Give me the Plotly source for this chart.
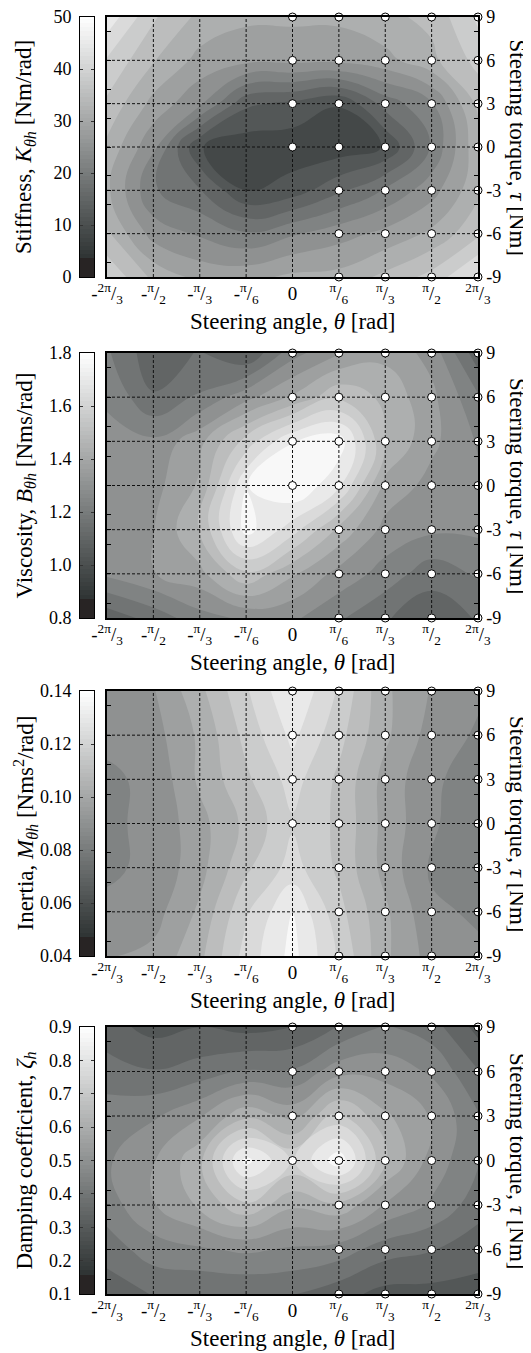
import numpy as np
import plotly.graph_objects as go

PI = np.pi
# ---- axes / categories ----
theta = [-2*PI/3, -PI/2, -PI/3, -PI/6, 0.0, PI/6, PI/3, PI/2, 2*PI/3]
theta_text = ["-<sup>2π</sup>/<sub>3</sub>", "-<sup>π</sup>/<sub>2</sub>", "-<sup>π</sup>/<sub>3</sub>",
              "-<sup>π</sup>/<sub>6</sub>", "0", "<sup>π</sup>/<sub>6</sub>", "<sup>π</sup>/<sub>3</sub>",
              "<sup>π</sup>/<sub>2</sub>", "<sup>2π</sup>/<sub>3</sub>"]
tau = [9, 6, 3, 0, -3, -6, -9]
tau_ticks = [-9, -6, -3, 0, 3, 6, 9]
tau_minor = [-8, -4, -2, 2, 4, 8]

# ---- measured grid (rows: tau 9..-9, cols: theta -2pi/3..2pi/3) ----
stiffness = [
    [45.6, 37.1, 32.5, 30.7, 30.7, 30.7, 32.5, 34.2, 40.7],
    [39.6, 33.6, 28.9, 27.6, 27.6, 27.6, 28.9, 32.5, 37.8],
    [36.0, 28.9, 24.0, 14.0, 12.5, 10.2, 18.0, 23.0, 34.2],
    [32.5, 24.0, 10.2, 8.0, 8.0, 8.0, 10.2, 20.4, 32.5],
    [30.7, 20.4, 16.9, 10.0, 11.5, 16.0, 20.4, 25.3, 32.5],
    [33.6, 25.3, 22.9, 20.4, 22.9, 25.3, 27.6, 30.7, 36.0],
    [39.6, 32.5, 28.9, 28.9, 30.7, 31.1, 34.2, 37.8, 44.2],
]
viscosity = [
    [1.21, 1.09, 1.14, 1.07, 1.24, 1.33, 1.38, 1.31, 1.09],
    [1.26, 1.14, 1.21, 1.31, 1.41, 1.52, 1.45, 1.35, 1.21],
    [1.28, 1.28, 1.38, 1.56, 1.73, 1.77, 1.47, 1.35, 1.26],
    [1.33, 1.31, 1.41, 1.73, 1.80, 1.68, 1.38, 1.31, 1.28],
    [1.33, 1.33, 1.47, 1.76, 1.63, 1.45, 1.31, 1.28, 1.28],
    [1.28, 1.33, 1.38, 1.52, 1.41, 1.31, 1.24, 1.16, 1.21],
    [1.09, 1.16, 1.24, 1.28, 1.28, 1.21, 1.14, 1.09, 1.14],
]
inertia = [
    [0.0906, 0.0928, 0.1049, 0.1191, 0.1333, 0.1191, 0.1013, 0.0928, 0.0879],
    [0.0879, 0.0906, 0.1013, 0.1155, 0.1284, 0.1155, 0.1013, 0.0906, 0.0857],
    [0.0857, 0.0879, 0.1013, 0.1120, 0.1227, 0.1120, 0.0977, 0.0879, 0.0835],
    [0.0857, 0.0879, 0.0977, 0.1084, 0.1191, 0.1120, 0.0977, 0.0879, 0.0808],
    [0.0857, 0.0879, 0.0977, 0.1120, 0.1227, 0.1120, 0.0977, 0.0857, 0.0835],
    [0.0879, 0.0906, 0.1013, 0.1191, 0.1333, 0.1155, 0.1013, 0.0879, 0.0857],
    [0.0928, 0.0951, 0.1049, 0.1227, 0.1356, 0.1191, 0.1013, 0.0906, 0.0879],
]
damping = [
    [0.334, 0.295, 0.313, 0.295, 0.313, 0.370, 0.426, 0.391, 0.295],
    [0.391, 0.370, 0.391, 0.426, 0.426, 0.505, 0.505, 0.466, 0.370],
    [0.448, 0.466, 0.522, 0.619, 0.562, 0.704, 0.590, 0.522, 0.426],
    [0.466, 0.522, 0.619, 0.865, 0.733, 0.882, 0.637, 0.505, 0.426],
    [0.448, 0.522, 0.590, 0.676, 0.590, 0.619, 0.522, 0.466, 0.391],
    [0.391, 0.448, 0.466, 0.483, 0.466, 0.448, 0.391, 0.370, 0.334],
    [0.334, 0.370, 0.370, 0.370, 0.370, 0.334, 0.295, 0.295, 0.295],
]

# measurement points (white circles)
meas_theta_cols = [0.0, PI/6, PI/3, PI/2, 2*PI/3]
meas_tau_zero_col = [0, 3, 6, 9]
meas_tau_other = [-9, -6, -3, 0, 3, 6, 9]

# colour-bar ranges and labels
cb_ranges = [(0, 50), (0.8, 1.8), (0.04, 0.14), (0.1, 0.9)]
cb_ticks = [[0, 10, 20, 30, 40, 50],
            [0.8, 1.0, 1.2, 1.4, 1.6, 1.8],
            [0.04, 0.06, 0.08, 0.10, 0.12, 0.14],
            [0.1, 0.2, 0.3, 0.4, 0.5, 0.6, 0.7, 0.8, 0.9]]
cb_fmt = ["{:.0f}", "{:.1f}", "{:.2f}", "{:.1f}"]
titles = ["Stiffness, <i>K</i><sub><i>θh</i></sub> [Nm/rad]",
          "Viscosity, <i>B</i><sub><i>θh</i></sub> [Nms/rad]",
          "Inertia, <i>M</i><sub><i>θh</i></sub> [Nms<sup>2</sup>/rad]",
          "Damping coefficient, <i>ζ</i><sub><i>h</i></sub>"]
datasets = [stiffness, viscosity, inertia, damping]

# ---- styling ----
W, H = 531, 1353
OFF = 8  # page body margin: figure origin sits 8px right/down in the window
FONT = "Liberation Serif, Times New Roman, Times, DejaVu Serif, serif"
TICK = 18
XTICK = 19
TITLE = 23
colorscale = [[0.0, "#282424"], [0.07, "#282424"], [0.0701, "#2e3333"], [1.0, "#ffffff"]]
panel_px = [(17, 277), (353, 618), (691, 956), (1027, 1294)]


def fx(px):
    return (px - OFF) / W


def fy(py):
    return 1 - (py - OFF) / H


x_dom = [fx(107), fx(478)]
cb_dom = [fx(80), fx(94)]
GRID_DASH = "3px,2px"

meas_x, meas_y = [], []
for c in meas_theta_cols:
    taus = meas_tau_zero_col if c == 0.0 else meas_tau_other
    for t in taus:
        meas_x.append(c)
        meas_y.append(t)

fig = go.Figure()
layout = dict(template="none", width=W, height=H, autosize=False,
              margin=dict(l=0, r=0, t=0, b=0, pad=0),
              paper_bgcolor="white", plot_bgcolor="white", showlegend=False,
              font=dict(family=FONT, size=TICK, color="black"))
annotations = []

for i in range(4):
    top, bot = panel_px[i]
    dom = [fy(bot), fy(top)]
    lo, hi = cb_ranges[i]
    n_main = 2 * i + 1
    n_cb = 2 * i + 2
    xm, ym = f"x{n_main}", f"y{n_main}"
    xc, yc = f"x{n_cb}", f"y{n_cb}"
    step = (hi - lo) / 15.0

    fig.add_trace(go.Contour(
        x=theta, y=tau, z=datasets[i], xaxis=xm, yaxis=ym,
        colorscale=colorscale, zmin=lo, zmax=hi, zauto=False,
        contours=dict(start=lo, end=hi, size=step, coloring="fill", showlines=False),
        line=dict(width=0, smoothing=1.3), showscale=False, hoverinfo="skip"))

    # dashed grid drawn above the contour fill
    gx, gy = [], []
    for t in theta[1:-1]:
        gx += [t, t, None]
        gy += [tau_ticks[0], tau_ticks[-1], None]
    for t in tau_ticks[1:-1]:
        gx += [theta[0], theta[-1], None]
        gy += [t, t, None]
    fig.add_trace(go.Scatter(x=gx, y=gy, mode="lines", xaxis=xm, yaxis=ym,
                             line=dict(color="#111111", width=1, dash=GRID_DASH),
                             hoverinfo="skip"))

    fig.add_trace(go.Scatter(x=meas_x, y=meas_y, mode="markers", xaxis=xm, yaxis=ym,
                             marker=dict(size=8, color="white", line=dict(color="black", width=1)),
                             cliponaxis=False, hoverinfo="skip"))

    # colour bar as its own small heatmap
    cb_vals = np.linspace(lo, hi, 64)
    fig.add_trace(go.Heatmap(z=[[v] for v in cb_vals], y=cb_vals, x=[0], xaxis=xc, yaxis=yc,
                             colorscale=colorscale, zmin=lo, zmax=hi, showscale=False,
                             hoverinfo="skip"))

    layout[f"xaxis{n_main}"] = dict(
        domain=x_dom, range=[theta[0], theta[-1]], anchor=ym, automargin=False,
        tickvals=theta, ticktext=theta_text, showgrid=False, zeroline=False,
        showline=True, mirror=True, linecolor="black", linewidth=1.5, ticks="",
        ticklabeloverflow="allow", ticklabelstandoff=-2,
        tickfont=dict(family=FONT, size=XTICK))
    layout[f"yaxis{n_main}"] = dict(
        domain=dom, range=[-9, 9], anchor=xm, side="right", automargin=False,
        tickvals=tau_ticks, ticktext=[str(t) for t in tau_ticks],
        showgrid=False, zeroline=False, showline=True, mirror="ticks",
        linecolor="black", linewidth=1.5, ticks="inside", ticklen=4, tickcolor="black",
        minor=dict(tickvals=tau_minor, ticks="inside", ticklen=4, tickcolor="black", showgrid=False),
        ticklabeloverflow="allow", ticklabelstandoff=3, tickfont=dict(family=FONT, size=TICK))
    layout[f"xaxis{n_cb}"] = dict(
        domain=cb_dom, range=[-0.5, 0.5], anchor=yc, showticklabels=False, ticks="",
        showgrid=False, zeroline=False, showline=True, mirror=True, automargin=False,
        linecolor="black", linewidth=1)
    layout[f"yaxis{n_cb}"] = dict(
        domain=dom, range=[lo, hi], anchor=xc, side="left", automargin=False,
        tickvals=cb_ticks[i], ticktext=[cb_fmt[i].format(v) for v in cb_ticks[i]],
        showgrid=False, zeroline=False, showline=True, mirror="ticks",
        linecolor="black", linewidth=1, ticks="inside", ticklen=3, tickcolor="#333333",
        ticklabeloverflow="allow", ticklabelstandoff=4, tickfont=dict(family=FONT, size=TICK))

    ymid = (dom[0] + dom[1]) / 2
    annotations.append(dict(text=titles[i], x=fx(25), y=ymid, xref="paper", yref="paper",
                            xanchor="center", yanchor="middle", textangle=-90, showarrow=False,
                            font=dict(family=FONT, size=TITLE)))
    annotations.append(dict(text="Steering torque, <i>τ</i> [Nm]", x=fx(517.5), y=ymid,
                            xref="paper", yref="paper", xanchor="center", yanchor="middle",
                            textangle=90, showarrow=False, font=dict(family=FONT, size=TITLE)))
    annotations.append(dict(text="Steering angle, <i>θ</i> [rad]", x=(x_dom[0] + x_dom[1]) / 2,
                            y=fy(bot + 44), xref="paper", yref="paper",
                            xanchor="center", yanchor="middle", showarrow=False,
                            font=dict(family=FONT, size=TITLE)))

layout["annotations"] = annotations
fig.update_layout(**layout)
fig.write_html("out.html")
